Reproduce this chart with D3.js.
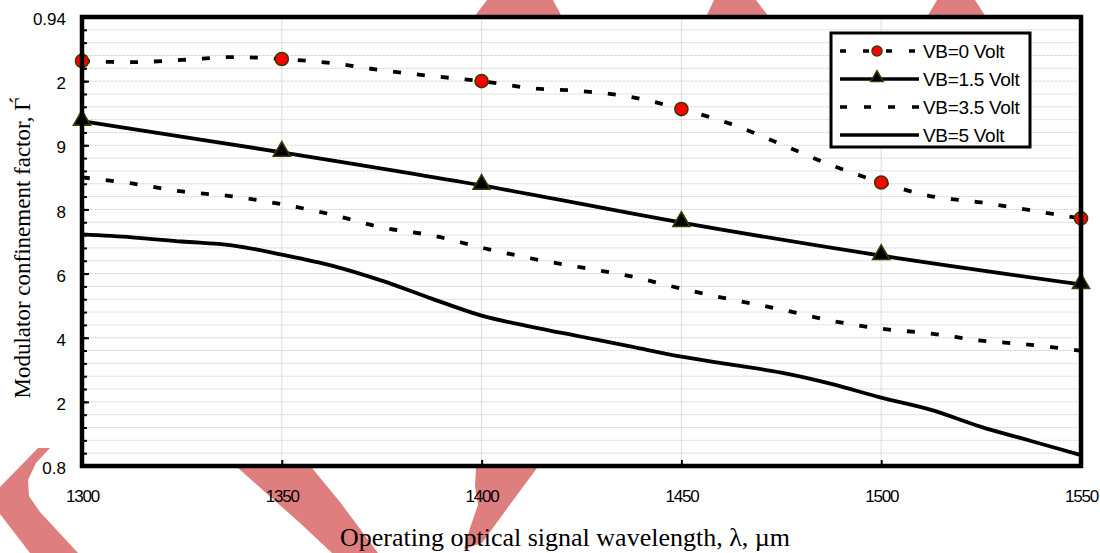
<!DOCTYPE html>
<html>
<head>
<meta charset="utf-8">
<script src="https://cdn.jsdelivr.net/npm/d3@7"></script>
<style>
  html, body { margin: 0; padding: 0; background: #fff; }
  svg { display: block; }
</style>
</head>
<body>
<svg id="chart"></svg>
<script>
/* data */
// x values (wavelength) for the smooth curves, one point every 12.5
const wavelengths = [1300, 1312.5, 1325, 1337.5, 1350, 1362.5, 1375, 1387.5, 1400, 1412.5, 1425,
  1437.5, 1450, 1462.5, 1475, 1487.5, 1500, 1512.5, 1525, 1537.5, 1550];

const vb0 = [0.9263, 0.9259, 0.9266, 0.9275, 0.9269, 0.9256, 0.9234, 0.9216, 0.9200, 0.9178, 0.9169,
  0.9150, 0.9113, 0.9066, 0.9003, 0.8938, 0.8884, 0.8841, 0.8822, 0.8797, 0.8772];

const vb15Wl = [1300, 1350, 1400, 1450, 1500, 1550];
const vb15 = [0.9075, 0.8978, 0.8875, 0.8759, 0.8656, 0.8566];

const vb35 = [0.8900, 0.8881, 0.8856, 0.8841, 0.8816, 0.8784, 0.8744, 0.8719, 0.8681, 0.8647, 0.8619,
  0.8591, 0.8553, 0.8519, 0.8488, 0.8453, 0.8428, 0.8413, 0.8391, 0.8378, 0.8359];

const vb5 = [0.8722, 0.8713, 0.8700, 0.8688, 0.8659, 0.8625, 0.8578, 0.8522, 0.8469, 0.8434, 0.8403,
  0.8372, 0.8341, 0.8316, 0.8291, 0.8256, 0.8213, 0.8175, 0.8122, 0.8078, 0.8034];

// wavelengths where the VB=0 curve carries a marker
const markerWl = [1300, 1350, 1400, 1450, 1500, 1550];

const seriesNames = ["VB=0 Volt", "VB=1.5 Volt", "VB=3.5 Volt", "VB=5 Volt"];

const xTicks = [1300, 1350, 1400, 1450, 1500, 1550];
const yTicks = [0.8, 0.82, 0.84, 0.86, 0.88, 0.9, 0.92, 0.94];
// tick labels as printed in the figure
const yTickLabels = ["0.8", "2", "4", "6", "8", "9", "2", "0.94"];

const xTitle = "Operating optical signal wavelength, \u03bb, \u00b5m";
const yTitle = "Modulator confinement factor, \u0393\u0301";

/* layout */
const svgProps = { width: 1100, height: 553 };
const plot = { left: 82, right: 1081, top: 17, bottom: 466 };
const markColor = "#3c3a00";
const watermarkColor = "#df7e7e";

const x = d3.scaleLinear().domain([1300, 1550]).range([plot.left, plot.right]);
const y = d3.scaleLinear().domain([0.8, 0.94]).range([plot.bottom, plot.top]);

const svg = d3.select("#chart")
  .attr("width", svgProps.width)
  .attr("height", svgProps.height)
  .style("background", "#fff");

// red watermark bands behind the plot (decoration, not data)
const watermark = [
  [[487, 0], [553, 0], [562, 17], [474, 17]],
  [[714, 0], [756, 0], [769, 17], [706, 17]],
  [[937, 0], [975, 0], [986, 17], [927, 17]],
  [[0, 487], [38, 448], [50, 448], [36, 463], [28, 480], [29, 496], [40, 512], [78, 553], [30, 553], [0, 514]],
  [[238, 468], [312, 468], [340, 502], [378, 553], [332, 553], [300, 523]],
  [[476, 468], [537, 468], [506, 510], [482, 543], [464, 549], [470, 528], [478, 505], [475, 486]]
];
svg.append("g")
  .selectAll("path")
  .data(watermark)
  .enter()
  .append("path")
    .attr("d", d => "M" + d.join("L") + "Z")
    .attr("fill", watermarkColor);

// plot background
svg.append("rect")
  .attr("x", plot.left).attr("y", plot.top)
  .attr("width", plot.right - plot.left).attr("height", plot.bottom - plot.top)
  .attr("fill", "#fff");

// grid
const minorY = d3.range(1, 35).map(i => 0.8 + i * 0.004);
svg.append("g")
  .selectAll("line")
  .data(minorY)
  .enter()
  .append("line")
    .attr("x1", plot.left).attr("x2", plot.right)
    .attr("y1", d => y(d)).attr("y2", d => y(d))
    .attr("stroke", "#d9d9d9")
    .attr("stroke-dasharray", "3,1");

svg.append("g")
  .selectAll("line")
  .data(xTicks.slice(1, -1))
  .enter()
  .append("line")
    .attr("x1", d => x(d)).attr("x2", d => x(d))
    .attr("y1", plot.top).attr("y2", plot.bottom)
    .attr("stroke", "#dcdcdc");

// axes
const minorAxis = svg.append("g")
  .attr("transform", "translate(" + plot.left + ",0)")
  .call(d3.axisLeft(y).tickValues(minorY).tickSizeInner(-5).tickSizeOuter(0).tickFormat(""));

const yAxis = svg.append("g")
  .attr("transform", "translate(" + plot.left + ",0)")
  .call(d3.axisLeft(y).tickValues(yTicks).tickSizeInner(-7).tickSizeOuter(0).tickPadding(16)
    .tickFormat((d, i) => yTickLabels[i]));

const xAxis = svg.append("g")
  .attr("transform", "translate(0," + plot.bottom + ")")
  .call(d3.axisBottom(x).tickValues(xTicks).tickSizeInner(-6).tickSizeOuter(0).tickPadding(24)
    .tickFormat(d3.format("d")));

[minorAxis, yAxis, xAxis].forEach(g => {
  g.select(".domain").remove();
  g.selectAll(".tick line").attr("stroke", "#000").attr("stroke-width", 2);
});
yAxis.selectAll("text")
  .attr("font-family", "Arial, 'Liberation Sans', sans-serif")
  .attr("font-size", 17)
  .attr("dy", "0.45em")
  .attr("fill", "#000");
xAxis.selectAll("text")
  .attr("font-family", "Arial, 'Liberation Sans', sans-serif")
  .attr("font-size", 17)
  .attr("letter-spacing", "-1.2px")
  .attr("fill", "#000");

// series
const series = [
  { name: seriesNames[0], wl: wavelengths, vals: vb0, dash: "8,16", marker: "circle" },
  { name: seriesNames[1], wl: vb15Wl, vals: vb15, dash: null, marker: "triangle" },
  { name: seriesNames[2], wl: wavelengths, vals: vb35, dash: "8,16", marker: null },
  { name: seriesNames[3], wl: wavelengths, vals: vb5, dash: null, marker: null }
];

const line = d3.line()
  .x(d => x(d[0]))
  .y(d => y(d[1]))
  .curve(d3.curveCatmullRom.alpha(0.5));

svg.append("g")
  .selectAll("path")
  .data(series)
  .enter()
  .append("path")
    .attr("d", s => line(s.wl.map((w, i) => [w, s.vals[i]])))
    .attr("fill", "none")
    .attr("stroke", "#000")
    .attr("stroke-width", 3.8)
    .attr("stroke-dasharray", s => s.dash);

const circleSym = d3.symbol(d3.symbolCircle, 135);
const triSym = d3.symbol(d3.symbolTriangle, 125);

// circles on VB=0
svg.append("g")
  .selectAll("path")
  .data(wavelengths.map((w, i) => [w, vb0[i]]).filter(d => markerWl.includes(d[0])))
  .enter()
  .append("path")
    .attr("d", circleSym)
    .attr("transform", d => "translate(" + x(d[0]) + "," + y(d[1]) + ")")
    .attr("fill", "#ff0000")
    .attr("stroke", markColor)
    .attr("stroke-width", 1.6);

// triangles on VB=1.5
svg.append("g")
  .selectAll("path")
  .data(vb15Wl.map((w, i) => [w, vb15[i]]))
  .enter()
  .append("path")
    .attr("d", triSym)
    .attr("transform", d => "translate(" + x(d[0]) + "," + (y(d[1]) - 1) + ")")
    .attr("fill", "#000")
    .attr("stroke", markColor)
    .attr("stroke-width", 1.6);

// frame
svg.append("rect")
  .attr("x", plot.left).attr("y", plot.top)
  .attr("width", plot.right - plot.left).attr("height", plot.bottom - plot.top)
  .attr("fill", "none")
  .attr("stroke", "#000")
  .attr("stroke-width", 4.5);

// legend
const legend = svg.append("g").attr("transform", "translate(831,33)");
legend.append("rect")
  .attr("width", 199).attr("height", 114)
  .attr("fill", "#fff")
  .attr("stroke", "#000")
  .attr("stroke-width", 3);

const legendDash = ["6,17", null, "7,17", null];
const items = legend.selectAll(".item")
  .data(series)
  .enter()
  .append("g")
    .attr("class", "item")
    .attr("transform", (d, i) => "translate(0," + (18 + i * 28) + ")");

items.append("line")
  .attr("x1", 9).attr("x2", 88)
  .attr("stroke", "#000")
  .attr("stroke-width", 3.5)
  .attr("stroke-dasharray", (d, i) => legendDash[i]);

items.filter(d => d.marker === "circle")
  .append("path")
    .attr("d", d3.symbol(d3.symbolCircle, 80))
    .attr("transform", "translate(46,0)")
    .attr("fill", "#ff0000")
    .attr("stroke", markColor)
    .attr("stroke-width", 1.4);

items.filter(d => d.marker === "triangle")
  .append("path")
    .attr("d", d3.symbol(d3.symbolTriangle, 70))
    .attr("transform", "translate(46,-1)")
    .attr("fill", "#000")
    .attr("stroke", markColor)
    .attr("stroke-width", 1.4);

items.append("text")
  .attr("x", 92)
  .attr("y", 7)
  .attr("font-family", "Arial, 'Liberation Sans', sans-serif")
  .attr("font-size", 19)
  .attr("letter-spacing", "-0.3px")
  .text(d => d.name);

// axis titles
svg.append("text")
  .attr("x", 565)
  .attr("y", 546)
  .attr("text-anchor", "middle")
  .attr("font-family", "'Times New Roman', 'Liberation Serif', serif")
  .attr("font-size", 26)
  .text(xTitle);

svg.append("text")
  .attr("transform", "translate(30,248) rotate(-90)")
  .attr("text-anchor", "middle")
  .attr("font-family", "'Times New Roman', 'Liberation Serif', serif")
  .attr("font-size", 23)
  .text(yTitle);
</script>
</body>
</html>
